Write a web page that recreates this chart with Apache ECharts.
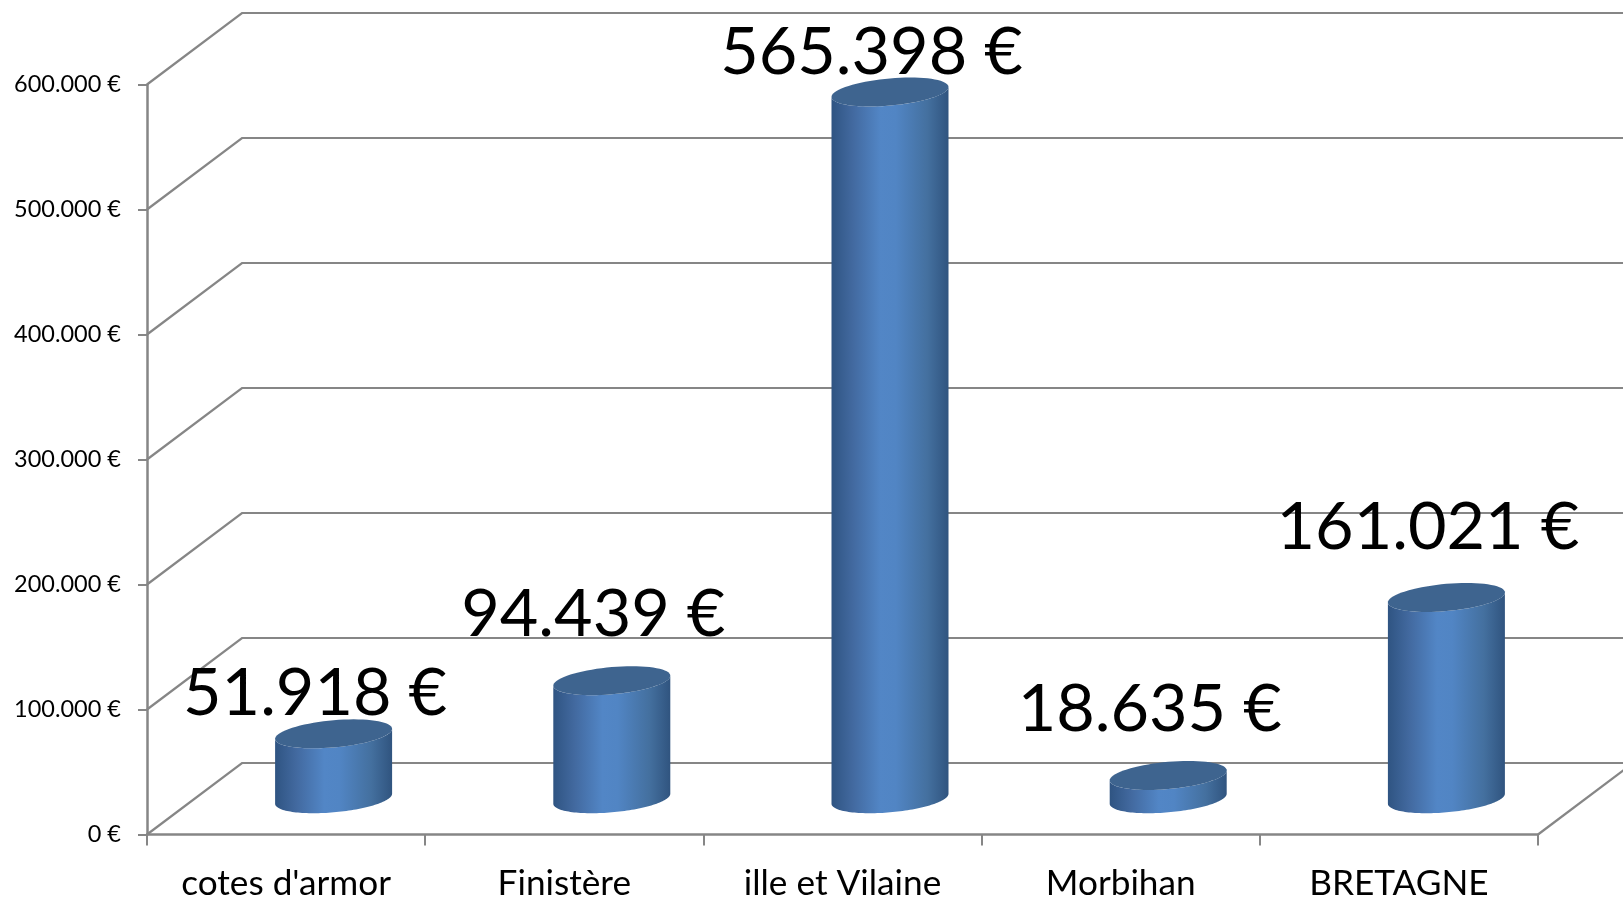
<!DOCTYPE html>
<html><head><meta charset="utf-8">
<style>html,body{margin:0;padding:0;background:#fff}#c{width:1623px;height:899px}</style>
<script src="https://cdn.jsdelivr.net/npm/echarts@6/dist/echarts.min.js"></script></head>
<body><div id="c"></div>
<script>
const categories = ["cotes d'armor", "Finistère", "ille et Vilaine", "Morbihan", "BRETAGNE"];
const values = [51918, 94439, 565398, 18635, 161021];
const valueLabels = ["51.918 €", "94.439 €", "565.398 €", "18.635 €", "161.021 €"];
const yTicks = [0, 100000, 200000, 300000, 400000, 500000, 600000];
const labelOffsetY = [-40, -66, -39, -66, -70];

const FONT = 'Lato, "Open Sans", sans-serif';
const GREY = '#868686';
const depthX = 95, depthY = -71.5;
const rx = 58.5, tilt = 5, ry = 13.6;

function ellipsePoints(cx, cy, from, to) {
  const pts = [];
  const n = 72;
  for (let i = 0; i <= n; i++) {
    const t = from + (to - from) * i / n;
    pts.push([cx + rx * Math.cos(t), cy - tilt * Math.cos(t) - ry * Math.sin(t)]);
  }
  return pts;
}

function renderWalls(params, api) {
  const y = api.coord([0, api.value(0)])[1];
  const cs = params.coordSys;
  const x0 = cs.x, x1 = cs.x + cs.width;
  const isFloor = api.value(0) === 0;
  const children = [{
    type: 'polyline',
    shape: { points: [[x0, y], [x0 + depthX, y + depthY], [x1 + depthX, y + depthY]] },
    style: { stroke: GREY, lineWidth: 2.2, fill: null }
  }];
  if (isFloor) children.push({
    type: 'line',
    shape: { x1: x1, y1: y, x2: x1 + depthX, y2: y + depthY },
    style: { stroke: GREY, lineWidth: 2.2 }
  });
  return { type: 'group', children };
}

function renderCylinder(params, api) {
  const i = api.value(0);
  const base = api.coord([i, 0]);
  const top = api.coord([i, api.value(1)]);
  const cx = base[0] + depthX / 2;
  const by = base[1] + depthY / 2;
  const ty = top[1] + depthY / 2;
  const side = ellipsePoints(cx, by, Math.PI, 2 * Math.PI)
    .concat(ellipsePoints(cx, ty, 0, -Math.PI));
  return {
    type: 'group',
    children: [{
      type: 'polygon',
      shape: { points: side },
      style: {
        fill: new echarts.graphic.LinearGradient(0, 0, 1, 0, [
          { offset: 0, color: '#2f5482' },
          { offset: 0.18, color: '#42699f' },
          { offset: 0.42, color: '#5286c6' },
          { offset: 0.55, color: '#5185c4' },
          { offset: 0.82, color: '#44709f' },
          { offset: 1, color: '#30547f' }
        ])
      }
    }, {
      type: 'polygon',
      shape: { points: ellipsePoints(cx, ty, 0, 2 * Math.PI) },
      style: { fill: '#3e648f' }
    }]
  };
}

function renderValueLabel(params, api) {
  const i = api.value(0);
  const p = api.coord([i, api.value(1)]);
  return {
    type: 'text',
    style: {
      text: valueLabels[i],
      x: p[0] + depthX / 2 - 18.5,
      y: p[1] + depthY / 2 + labelOffsetY[i],
      align: 'center', verticalAlign: 'middle',
      font: '66.5px ' + FONT, fill: '#000'
    }
  };
}

const barData = values.map((v, i) => [i, v]);
const chart = echarts.init(document.getElementById('c'));
chart.setOption({
  animation: false,
  backgroundColor: '#fff',
  grid: { left: 147, right: 85, top: 84.5, bottom: 64.5, containLabel: false, outerBoundsMode: 'none' },
  xAxis: {
    type: 'category', data: categories, boundaryGap: true,
    axisLine: { lineStyle: { color: GREY, width: 2.5 } },
    axisTick: { show: true, alignWithLabel: false, length: 11, lineStyle: { color: GREY, width: 2 } },
    axisLabel: { color: '#000', fontFamily: FONT, fontSize: 35.2, margin: 32, interval: 0 },
    splitLine: { show: false }
  },
  yAxis: {
    type: 'value', min: 0, max: 600000, interval: 100000,
    axisLine: { show: true, lineStyle: { color: GREY, width: 2.5 } },
    axisTick: { show: true, length: 9, lineStyle: { color: GREY, width: 2 } },
    axisLabel: {
      color: '#000', fontFamily: FONT, fontSize: 23.5, margin: 26, padding: [8, 0, 0, 0],
      formatter: v => v === 0 ? '0 €' : (v / 1000) + '.000 €'
    },
    splitLine: { show: false }
  },
  series: [
    { type: 'custom', coordinateSystem: 'cartesian2d', data: yTicks.map(v => [v]),
      encode: { y: 0 }, renderItem: renderWalls, silent: true, clip: false, z: 1 },
    { type: 'custom', coordinateSystem: 'cartesian2d', data: barData,
      encode: { x: 0, y: 1 }, renderItem: renderCylinder, clip: false, z: 3 },
    { type: 'custom', coordinateSystem: 'cartesian2d', data: barData,
      encode: { x: 0, y: 1 }, renderItem: renderValueLabel, clip: false, z: 4 }
  ]
});
</script></body></html>
